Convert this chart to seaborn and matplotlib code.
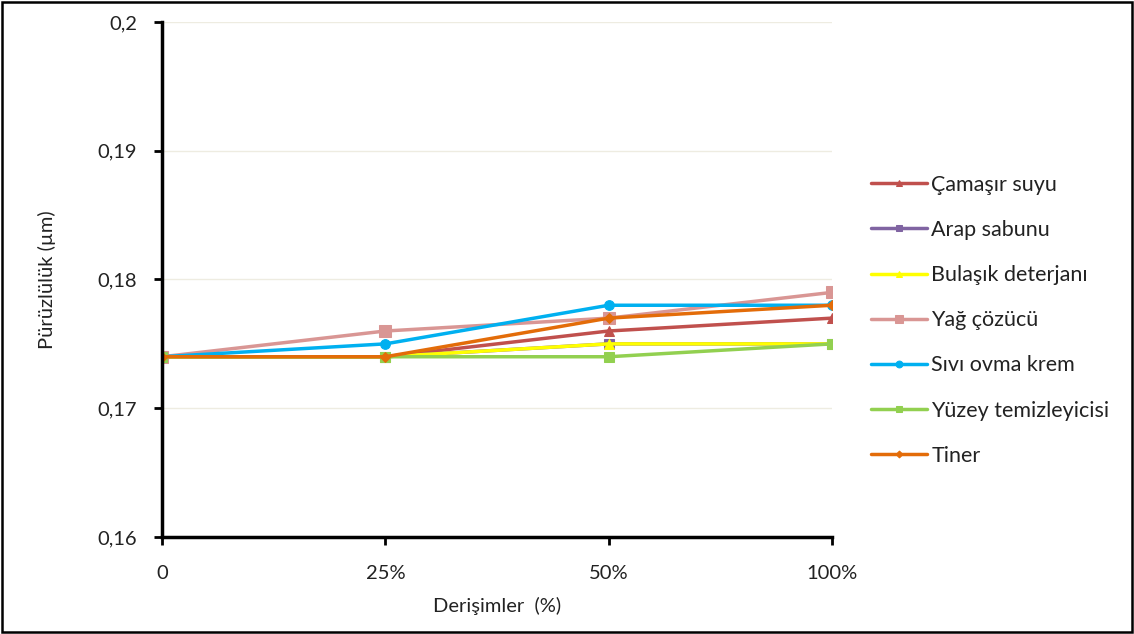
import matplotlib
matplotlib.use("Agg")
import matplotlib.pyplot as plt
import seaborn as sns
import pandas as pd
from matplotlib.patches import Rectangle
from matplotlib.ticker import FuncFormatter

categories = ["0", "25%", "50%", "100%"]
series_names = ["Çamaşır suyu", "Arap sabunu", "Bulaşık deterjanı", "Yağ çözücü",
                "Sıvı ovma krem", "Yüzey temizleyicisi", "Tiner"]
camasir = [0.174, 0.174, 0.176, 0.177]
arap = [0.174, 0.174, 0.175, 0.175]
bulasik = [0.174, 0.174, 0.175, 0.175]
yag = [0.174, 0.176, 0.177, 0.179]
sivi = [0.174, 0.175, 0.178, 0.178]
yuzey = [0.174, 0.174, 0.174, 0.175]
tiner = [0.174, 0.174, 0.177, 0.178]
values = [camasir, arap, bulasik, yag, sivi, yuzey, tiner]
y_ticks = [0.16, 0.17, 0.18, 0.19, 0.2]

colors = ["#C0504D", "#8064A2", "#FFFF00", "#D99694", "#00B0F0", "#92D050", "#E36C09"]
markers = ["^", "s", "^", "s", "o", "s", "D"]
msizes = [7, 7, 7, 8, 7, 7, 5]

rows = []
for name, vals in zip(series_names, values):
    for i, v in enumerate(vals):
        rows.append({"x": i, "y": v, "Seri": name})
df = pd.DataFrame(rows)

sns.set_theme(style="white")
plt.rcParams["font.family"] = ["Lato", "DejaVu Sans"]

FS = 14.5
fig = plt.figure(figsize=(11.34, 6.34), dpi=100)
ax = fig.add_axes([0.1429, 0.153, 0.5908, 0.8123])

for name, col, m, ms in zip(series_names, colors, markers, msizes):
    sub = df[df["Seri"] == name]
    sns.lineplot(data=sub, x="x", y="y", ax=ax, color=col, marker=m, markersize=ms,
                 markeredgecolor=col, linewidth=2.5, label=name, legend=False)

ax.set_xlim(0, 3)
ax.set_ylim(0.16, 0.2)
ax.set_xticks(range(len(categories)))
ax.set_xticklabels(categories)
ax.set_yticks(y_ticks)
ax.yaxis.set_major_formatter(FuncFormatter(lambda v, p: ("%g" % round(v, 3)).replace(".", ",")))
ax.grid(axis="y", color="#EEECE1", linewidth=1)
ax.set_axisbelow(True)
for s in ["top", "right"]:
    ax.spines[s].set_visible(False)
for s in ["left", "bottom"]:
    ax.spines[s].set_color("black")
    ax.spines[s].set_linewidth(2.5)
ax.tick_params(axis="both", which="both", direction="out", length=6, width=2,
               color="black", labelsize=FS, labelcolor="#222222", left=True, bottom=True)
ax.tick_params(axis="y", pad=12)
ax.tick_params(axis="x", pad=14)
ax.set_xlabel("Derişimler  (%)", fontsize=FS, color="#222222", labelpad=11)
ax.set_ylabel("Pürüzlülük (µm)", fontsize=FS, color="#222222", labelpad=30)
for lbl in ax.get_xticklabels() + ax.get_yticklabels():
    lbl.set_clip_on(False)

handles, labels = ax.get_legend_handles_labels()
leg = fig.legend(handles, labels, loc="upper left", bbox_to_anchor=(0.751, 0.755),
                 frameon=False, fontsize=15.5, labelspacing=1.17, handlelength=2.6,
                 handletextpad=0.2, markerscale=0.7)
for t in leg.get_texts():
    t.set_color("#222222")

fig.patches.append(Rectangle((0.002, 0.003), 0.996, 0.994, transform=fig.transFigure,
                             fill=False, edgecolor="black", linewidth=1.8))

fig.savefig("out.png", dpi=100)
